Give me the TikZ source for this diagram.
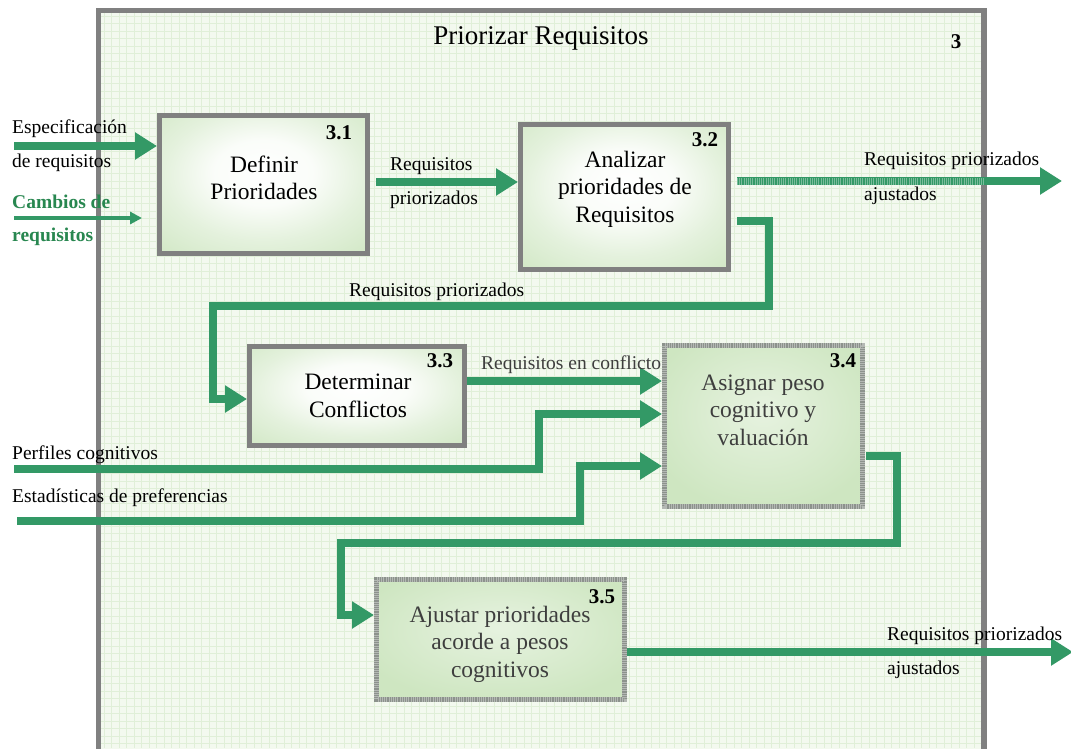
\documentclass[tikz,border=0pt]{standalone}
\usepackage{fontspec}
\setmainfont{Liberation Serif}
\usetikzlibrary{arrows.meta,calc}
\definecolor{flow}{RGB}{51,153,102}
\definecolor{flowtext}{RGB}{40,135,80}
\definecolor{framegray}{RGB}{128,128,128}
\definecolor{texgray}{RGB}{140,146,140}
\definecolor{paper}{RGB}{243,249,239}
\definecolor{gridline}{RGB}{224,239,216}
\definecolor{boxgreen}{RGB}{206,230,193}
\definecolor{softgray}{RGB}{62,62,62}
\pgfdeclareradialshading{boxglow}{\pgfpoint{0bp}{5bp}}{%
  color(0bp)=(white); color(12bp)=(white!90!boxgreen);
  color(24bp)=(white!45!boxgreen); color(40bp)=(boxgreen); color(80bp)=(boxgreen)}
\pgfdeclareradialshading{boxflat}{\pgfpoint{0bp}{5bp}}{%
  color(0bp)=(white!50!boxgreen); color(30bp)=(boxgreen);
  color(80bp)=(boxgreen)}
\begin{document}
\begin{tikzpicture}[x=1pt,y=-1pt,
  procbox/.style={draw=framegray,line width=5pt,shading=boxglow,inner sep=0pt},
  softbox/.style={draw=texgray,line width=5pt,shading=boxflat,inner sep=0pt},
  boxtext/.style={align=center,inner sep=0pt,font=\fontsize{23.5}{27.5}\selectfont},
  softtext/.style={boxtext,text=softgray},
  boxnum/.style={inner sep=0pt,font=\fontsize{21}{24}\selectfont\bfseries},
  lbl/.style={anchor=west,inner sep=0pt,font=\fontsize{19.5}{23}\selectfont},
  flowarrow/.style={draw=flow,line width=7.5pt,line join=miter,
    -{Triangle[length=22pt,width=26pt]}},
  thinarrow/.style={draw=flow,line width=4.5pt,-{Triangle[length=12pt,width=12pt]}},
  texture/.style={draw=white,opacity=.35,line width=5pt,dash pattern=on 1pt off 1.2pt},
  gridl/.style={draw=gridline,line width=.6pt}]
\useasboundingbox (0,0) rectangle (1071,748);
\clip (0,0) rectangle (1071,748);
\fill[white] (0,0) rectangle (1071,748);

% process frame with grid paper
\fill[paper] (98.5,10.5) rectangle (984,770);
\foreach \gx in {104,111.5,...,980} \draw[gridl] (\gx,13) -- (\gx,748);
\foreach \gy in {16,23.5,...,748} \draw[gridl] (101,\gy) -- (981,\gy);
\draw[framegray,line width=5.5pt] (98.5,770) -- (98.5,10.5) -- (984,10.5) -- (984,770);

\node[inner sep=0pt,font=\fontsize{27}{30}\selectfont] (title) at (541,38) {Priorizar Requisitos};
\node[inner sep=0pt,font=\fontsize{21}{24}\selectfont\bfseries] (pnum) at (956,42) {3};

% sub-processes
\node[procbox,minimum width=208pt,minimum height=138pt] (b1) at (263.5,184.5) {};
\node[procbox,minimum width=208pt,minimum height=145pt] (b2) at (624.5,197) {};
\node[procbox,minimum width=215pt,minimum height=99pt] (b3) at (357,396) {};
\node[softbox,minimum width=198pt,minimum height=161pt] (b4) at (763.5,426) {};
\node[softbox,minimum width=248pt,minimum height=120pt] (b5) at (500.5,639.5) {};
\draw[texture] ($(b4.north west)+(2.5,2.5)$) rectangle ($(b4.south east)+(-2.5,-2.5)$);
\draw[texture] ($(b5.north west)+(2.5,2.5)$) rectangle ($(b5.south east)+(-2.5,-2.5)$);

\node[boxtext] (t1) at (264,178) {Definir\\Prioridades};
\node[boxtext] (t2) at (625,189) {Analizar\\prioridades de\\Requisitos};
\node[boxtext] (t3) at (358,396) {Determinar\\Conflictos};
\node[softtext] (t4) at (763,410) {Asignar peso\\cognitivo y\\valuación};
\node[softtext] (t5) at (500,644) {Ajustar prioridades\\acorde a pesos\\cognitivos};
\node[boxnum] (n1) at (339,133) {3.1};
\node[boxnum] (n2) at (705,140) {3.2};
\node[boxnum] (n3) at (440,361) {3.3};
\node[boxnum] (n4) at (843,361) {3.4};
\node[boxnum] (n5) at (602,597) {3.5};

% free ends of the outside flows
\coordinate (inA) at (14,146);
\coordinate (inB) at (14,218);
\coordinate (inBend) at (142,218);
\coordinate (inC) at (14,469);
\coordinate (inD) at (17,521);
\coordinate (outA) at (1062,181);
\coordinate (outAmid) at (985,181);
\coordinate (outB) at (1073,652);

% flows
\draw[flowarrow] (inA) -- ($(b1.west)+(0,-38.5)$);
\draw[thinarrow] (inB) -- (inBend);
\draw[flowarrow] ($(b1.east)+(6,-2.5)$) -- ($(b2.west)+(0,-15)$);
\draw[flowarrow] ($(b2.east)+(6,-16)$) -- (outA);
\draw[texture,line width=7pt] ($(b2.east)+(6,-16)$) -- (outAmid);
\draw[flowarrow] ($(b2.east)+(6,24)$) -- (769,221) -- (769,306) -- (213,306) -- (213,399)
  -- ($(b3.west)+(0,3)$);
\draw[flowarrow] ($(b3.east)+(0,-15)$) -- ($(b4.west)+(0,-45)$);
\draw[flowarrow] (inC) -- (539,469) -- (539,414) -- ($(b4.west)+(0,-12)$);
\draw[flowarrow] (inD) -- (580,521) -- (580,466) -- ($(b4.west)+(0,40)$);
\draw[flowarrow] ($(b4.east)+(1,30)$) -- (897,456) -- (897,543) -- (341,543) -- (341,615)
  -- ($(b5.west)+(0,-24.5)$);
\draw[flowarrow] ($(b5.east)+(0,12.5)$) -- (outB);

% flow labels
\node[lbl] (l1) at (12,129) {Especificación};
\node[lbl] (l2) at (12,163) {de requisitos};
\node[lbl,text=flowtext,font=\fontsize{19.5}{23}\selectfont\bfseries] (l3) at (12,202) {Cambios de};
\node[lbl,text=flowtext,font=\fontsize{19.5}{23}\selectfont\bfseries] (l4) at (12,237) {requisitos};
\node[lbl] (l5) at (390,166) {Requisitos};
\node[lbl] (l6) at (390,200) {priorizados};
\node[lbl] (l7) at (864,161) {Requisitos priorizados};
\node[lbl] (l8) at (864,196) {ajustados};
\node[lbl] (l9) at (349,292) {Requisitos priorizados};
\node[lbl,text=softgray] (l10) at (481,365) {Requisitos en conflicto};
\node[lbl] (l11) at (12,455) {Perfiles cognitivos};
\node[lbl] (l12) at (12,498) {Estadísticas de preferencias};
\node[lbl] (l13) at (887,636) {Requisitos priorizados};
\node[lbl] (l14) at (887,670) {ajustados};
\end{tikzpicture}
\end{document}
